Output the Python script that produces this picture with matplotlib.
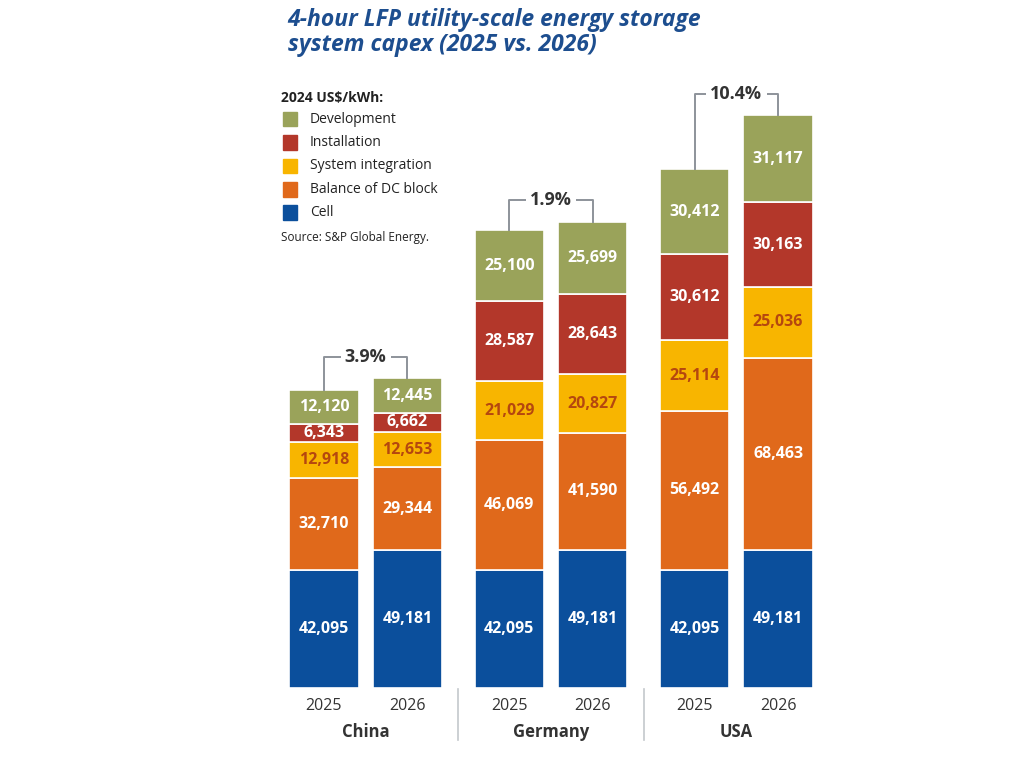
import matplotlib
matplotlib.use("Agg")
import matplotlib.pyplot as plt
import numpy as np
from matplotlib.patches import Rectangle

plt.rcParams['font.family'] = ['Open Sans', 'DejaVu Sans']

countries = ["China", "Germany", "USA"]
years = ["2025", "2026"]
# stacked from bottom to top
segments = ["Cell", "Balance of DC block", "System integration", "Installation", "Development"]
cell = [42095, 49181, 42095, 49181, 42095, 49181]
balance = [32710, 29344, 46069, 41590, 56492, 68463]
integration = [12918, 12653, 21029, 20827, 25114, 25036]
installation = [6343, 6662, 28587, 28643, 30612, 30163]
development = [12120, 12445, 25100, 25699, 30412, 31117]

colors = ["#0b4f9c", "#e0691b", "#f8b500", "#b3372a", "#9aa35a"]
text_colors = ["white", "white", "#b5470f", "white", "white"]

values = [cell, balance, integration, installation, development]

fig = plt.figure(figsize=(10.24, 7.68), dpi=100)
ax = fig.add_axes([0.2734, 0.1042, 0.537, 0.7917])

group_gap = 2.22
x = np.array([g * group_gap + i for g in range(len(countries)) for i in range(len(years))])
width = 0.83

bottom = np.zeros(len(x))
for vals, col, tcol in zip(values, colors, text_colors):
    vals = np.array(vals)
    ax.bar(x, vals, width, bottom=bottom, color=col, edgecolor="white", linewidth=1.2)
    for xi, b, v in zip(x, bottom, vals):
        ax.text(xi, b + v / 2, f"{v:,}", ha="center", va="center", color=tcol,
                fontsize=11.5, fontweight="bold")
    bottom = bottom + vals

totals = bottom
ax.set_xlim(-0.527, 6.06)
ax.set_ylim(0, 216450)
ax.axis("off")

# brackets with percentage change
for g in range(len(countries)):
    i0, i1 = 2 * g, 2 * g + 1
    t0, t1 = totals[i0], totals[i1]
    pct = (t1 - t0) / t0 * 100
    top = max(t0, t1) + 7600
    xm = (x[i0] + x[i1]) / 2
    lc = "#8d939a"
    ax.plot([x[i0], x[i0], x[i1], x[i1]], [t0, top, top, t1], color=lc, lw=1.4,
            solid_joinstyle="round")
    ax.text(xm, top, f"{pct:.1f}%", ha="center", va="center", fontsize=13,
            fontweight="bold", color="#333333",
            bbox=dict(facecolor="white", edgecolor="none", pad=3))

# x labels
for i, xi in enumerate(x):
    ax.text(xi, -6500, years[i % 2], ha="center", va="center", fontsize=11.5, color="#333333")
for g, c in enumerate(countries):
    xm = (x[2 * g] + x[2 * g + 1]) / 2
    ax.text(xm, -15500, c, ha="center", va="center", fontsize=12, fontweight="bold",
            color="#333333")
for g in range(1, len(countries)):
    xs = (x[2 * g - 1] + x[2 * g]) / 2
    ax.plot([xs, xs], [-500, -18500], color="#c4c8cc", lw=1.2, clip_on=False)

# title
fig.text(0.281, 0.99, "4-hour LFP utility-scale energy storage\nsystem capex (2025 vs. 2026)",
         ha="left", va="top", fontsize=16.5, fontweight="bold", style="italic",
         color="#1d4e8f", linespacing=1.1)

# legend
fig.text(0.274, 0.873, "2024 US$/kWh:", ha="left", va="center", fontsize=10,
         fontweight="bold", color="#222222")
legend_rows = list(zip(segments, colors))[::-1]
for k, (name, col) in enumerate(legend_rows):
    yc = 0.845 - k * 0.0305
    fig.patches.append(Rectangle((0.2765, yc - 0.0095), 0.0135, 0.019, color=col,
                                 transform=fig.transFigure, figure=fig))
    fig.text(0.3025, yc, name, ha="left", va="center", fontsize=10, color="#222222")
fig.text(0.274, 0.691, "Source: S&P Global Energy.", ha="left", va="center",
         fontsize=8.5, color="#222222")

fig.savefig("out.png", dpi=100)
